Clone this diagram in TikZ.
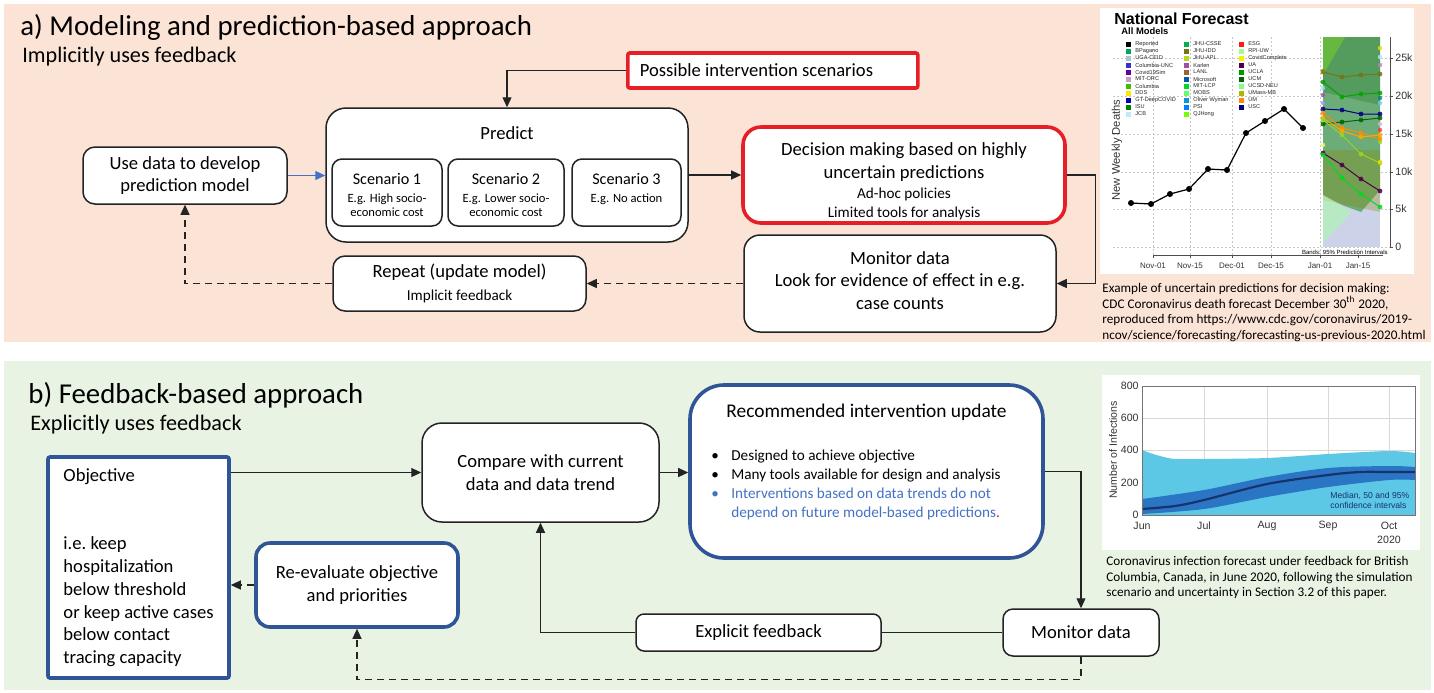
\documentclass[tikz,border=0pt]{standalone}
\usepackage{fontspec}
\setmainfont{Carlito}
\newfontfamily\chartfont{Liberation Sans}
\usetikzlibrary{arrows.meta,positioning}

\definecolor{panelPeach}{RGB}{251,228,214}
\definecolor{panelMint}{RGB}{233,243,228}
\definecolor{alertRed}{RGB}{232,30,38}
\definecolor{fbBlue}{RGB}{47,85,151}
\definecolor{linkBlue}{RGB}{68,114,196}
\definecolor{inkGray}{RGB}{35,35,35}
\definecolor{bandCyan}{RGB}{92,200,230}
\definecolor{bandBlue}{RGB}{42,118,196}
\definecolor{medianNavy}{RGB}{24,50,110}
\definecolor{hazeBlue}{RGB}{204,210,232}
\definecolor{mutedGreen}{RGB}{98,168,108}

\newcommand{\headfont}{\fontsize{14.4}{17}\selectfont}
\newcommand{\subheadfont}{\fontsize{11.1}{13}\selectfont}
\newcommand{\boxfont}{\fontsize{9.3}{11.4}\selectfont}
\newcommand{\notefont}{\fontsize{7.6}{9.5}\selectfont}
\newcommand{\scentitlefont}{\fontsize{8.1}{9}\selectfont}
\newcommand{\scenfont}{\fontsize{6.3}{7.2}\selectfont}
\newcommand{\figcapfont}{\fontsize{6.6}{7.85}\selectfont}

\begin{document}
\begin{tikzpicture}[x=0.5pt,y=-0.5pt, every node/.style={inner sep=0pt}]
  \tikzset{
    box/.style={draw=inkGray, line width=0.75pt, fill=white, rounded corners=6pt, align=center, font=\boxfont},
    redbox/.style={box, draw=alertRed, line width=1.8pt},
    bluebox/.style={box, draw=fbBlue, line width=1.8pt},
    flow/.style={draw=inkGray, line width=0.6pt, -{Triangle[length=5pt,width=4.5pt]}},
    dashflow/.style={flow, dash pattern=on 3.5pt off 2.5pt},
    plainline/.style={draw=inkGray, line width=0.6pt},
    gridline/.style={draw=black!22, line width=0.3pt, dash pattern=on 1pt off 1pt},
    axislbl/.style={font=\chartfont\fontsize{5.3}{6}\selectfont, text=black!80},
    datelbl/.style={font=\chartfont\fontsize{4}{5}\selectfont, text=black!80},
    tinylbl/.style={font=\chartfont\fontsize{2.8}{3.3}\selectfont, text=black!85}
  }

  \path[use as bounding box] (0,0) rectangle (1434,692);

  % panel backgrounds
  \fill[panelPeach] (4,4) rectangle (1431,342);
  \fill[panelMint] (4,361) rectangle (1431,690);

  % ---------------- panel a ----------------
  \node[anchor=west, font=\headfont] (titleA) at (20,27) {a) Modeling and prediction-based approach};
  \node[anchor=west, font=\subheadfont] (subA) at (22,57) {Implicitly uses feedback};

  \node[redbox, anchor=west, align=flush left, text width=133pt, inner xsep=6pt, minimum height=17.5pt, rounded corners=1pt] (scenarios) at (626,70.5) {Possible intervention scenarios};

  \node[box, minimum width=181pt, minimum height=67pt, rounded corners=10pt] (predict) at (507,175) {};
  \node[font=\boxfont] (predictlbl) at (507,133) {Predict};
  \node[box, font=\scentitlefont, minimum width=55pt, minimum height=33.5pt, rounded corners=5pt] (scen1) at (387,192.5)
    {\rule{0pt}{8.3pt}Scenario 1\\{\scenfont E.g. High socio-}\\[-2pt]{\scenfont economic cost}};
  \node[box, font=\scentitlefont, minimum width=58pt, minimum height=33.5pt, rounded corners=5pt] (scen2) at (506,192.5)
    {\rule{0pt}{8.3pt}Scenario 2\\{\scenfont E.g. Lower socio-}\\[-2pt]{\scenfont economic cost}};
  \node[box, font=\scentitlefont, minimum width=54.5pt, minimum height=33.5pt, rounded corners=5pt] (scen3) at (626.5,192.5)
    {\rule{0pt}{8.3pt}Scenario 3\\{\scenfont E.g. No action}\\[-2pt]{\scenfont\phantom{economic cost}}};

  \node[box, minimum width=102pt, minimum height=28.5pt] (usedata) at (185,175.5) {Use data to develop\\prediction model};
  \node[redbox, minimum width=161pt, minimum height=48pt, rounded corners=9pt] (decision) at (904,175) {};
  \node[align=center, font=\boxfont] (decisiontxt) at (904,181)
    {Decision making based on highly\\uncertain predictions\\[-1.2pt]{\notefont Ad-hoc policies}\\[-2pt]{\notefont Limited tools for analysis}};
  \node[box, minimum width=156pt, minimum height=48.5pt, rounded corners=8pt] (monitorA) at (900,283.5) {};
  \node[align=center, font=\boxfont] (monitorAtxt) at (900,280.5)
    {Monitor data\\Look for evidence of effect in e.g.\\case counts};
  \node[box, minimum width=126.5pt, minimum height=27.5pt] (repeat) at (459.5,283.5)
    {Repeat (update model)\\{\notefont Implicit feedback}};

  \draw[flow, draw=linkBlue] (usedata.east) -- (usedata.east -| predict.west);
  \draw[flow] (scenarios.west) -| (predict.north);
  \draw[flow] (predict.east) -- (predict.east -| decision.west);
  \draw[flow] (decision.east) -- ++(29,0) |- (monitorA.east);
  \draw[dashflow] (monitorA.west) -- (repeat.east);
  \draw[dashflow] (repeat.west) -| (usedata.south);

  % national forecast chart
  \fill[white] (1100,8) rectangle (1414,274);
  \foreach \gx in {1153,1190,1232,1271,1320,1358} \draw[gridline] (\gx,37) -- (\gx,255);
  \foreach \gy in {58,96,134,172,209,247} \draw[gridline] (1113,\gy) -- (1390,\gy);

  \fill[hazeBlue] (1323,37) rectangle (1380,247);
  \fill[mutedGreen, opacity=0.9] (1323,37) -- (1380,37) -- (1380,190) -- (1361,212) -- (1342,205) -- (1323,195) -- cycle;
  \fill[black!60!green, opacity=0.22] (1323,37) -- (1380,37) -- (1380,105) -- (1323,92) -- cycle;
  \fill[olive, opacity=0.3] (1323,150) -- (1380,150) -- (1380,212) -- (1323,200) -- cycle;
  \fill[green!35, opacity=0.55] (1323,195) -- (1352,212) -- (1323,242) -- cycle;
  \fill[green!25!lime, opacity=0.3] (1323,37) -- (1345,37) -- (1323,75) -- cycle;

  \foreach \fc/\ya/\yb/\yc/\yd in {olive!80!black/72/77/75/74, green!65!black/82/97/94/93, blue!50!black/109/110/114/114,
      green!40!black/124/122/120/118, orange!90!yellow/113/128/133/139, orange!70!yellow/118/131/137/135,
      yellow!60!green/120/135/154/163, violet!60!black/153/165/179/191, green!70!teal/155/178/194/207} {
    \draw[\fc, line width=0.5pt] (1323,\ya) -- (1342,\yb) -- (1361,\yc) -- (1380,\yd);
    \foreach \px/\py in {1323/\ya,1342/\yb,1361/\yc,1380/\yd} \fill[\fc, opacity=0.85] (\px,\py) circle (1.2pt);
  }
  \foreach \ey/\ec in {48/yellow!80!olive, 57/cyan!30, 65/violet!50, 98/teal, 103/cyan!60, 124/violet!30, 130/red!80, 142/yellow!60!green, 162/yellow!80!olive}
    \fill[\ec, opacity=0.8] (1380,\ey) circle (1.1pt);
  \foreach \ey/\ec in {71/olive, 88/cyan!40, 95/violet!70, 103/blue!40, 145/yellow!60}
    \fill[\ec, opacity=0.8] (1323,\ey) circle (1.1pt);

  \draw[black, line width=0.6pt] (1131,203) -- (1151,204) -- (1170,194) -- (1189,189) -- (1208,169) -- (1227,170)
    -- (1246,133) -- (1265,121) -- (1284,109) -- (1303,128);
  \foreach \px/\py in {1131/203,1151/204,1170/194,1189/189,1208/169,1227/170,1246/133,1265/121,1284/109,1303/128}
    \fill (\px,\py) circle (1.5pt);

  \draw[black!70, line width=0.5pt] (1390,37) -- (1390,247);
  \foreach \ty/\tl in {58/25k,96/20k,134/15k,172/10k,209/5k,247/0} {
    \draw[black!70, line width=0.4pt] (1390,\ty) -- (1393,\ty);
    \node[axislbl, anchor=west] (ytick\ty) at (1395,\ty) {\tl};
  }
  \draw[black!70, line width=0.5pt] (1153,255) -- (1383,255);
  \foreach \tx/\tl in {1153/Nov-01,1190/Nov-15,1232/Dec-01,1271/Dec-15,1320/Jan-01,1358/Jan-15} {
    \draw[black!70, line width=0.4pt] (\tx,255) -- (\tx,258);
    \node[datelbl] (xtick\tx) at (\tx,266) {\tl};
  }

  \node[anchor=west, font=\chartfont\bfseries\fontsize{8}{9}\selectfont] (natTitle) at (1114,19) {National Forecast};
  \node[anchor=west, font=\chartfont\bfseries\fontsize{4.7}{5.5}\selectfont] (natSub) at (1121,31) {All Models};
  \node[rotate=90, font=\chartfont\fontsize{5.6}{6.5}\selectfont, text=black!80] (natYlab) at (1117,150) {New Weekly Deaths};
  \node[anchor=east, font=\chartfont\fontsize{3}{3.5}\selectfont] (bandsNote) at (1388,252) {Bands: 95\% Prediction Intervals};

  % legend, three columns
  \foreach \lname/\lcol [count=\i from 0] in {Reported/black, BPagano/teal!70!green, UGA-CEID/cyan!30!gray!60,
      Columbia-UNC/blue!60!gray, Covid19Sim/violet!80!blue, MIT-ORC/violet!40, Columbia/green!50!olive,
      DDS/yellow!90!orange, GT-DeepCOVID/blue!70!black, ISU/green!50!black, JCB/cyan!25} {
    \fill[\lcol] (1126,{42+7*\i}) rectangle ++(4.5,4.5);
    \node[tinylbl, anchor=west] (legA\i) at (1135,{44+7*\i}) {\lname};
  }
  \foreach \lname/\lcol [count=\i from 0] in {JHU-CSSE/teal!60!green, JHU-IDD/olive!80!black, JHU-APL/yellow!70!green,
      Karlen/violet!70, LANL/brown!80!black, Microsoft/teal!70!blue, MIT-LCP/green!70!teal, MOBS/green!60,
      Oliver Wyman/cyan!80!blue, PSI/blue!50!cyan, QJHong/lime!60!green} {
    \fill[\lcol] (1184,{42+7*\i}) rectangle ++(4.5,4.5);
    \node[tinylbl, anchor=west] (legB\i) at (1193,{44+7*\i}) {\lname};
  }
  \foreach \lname/\lcol [count=\i from 0] in {ESG/red!90, RPI-UW/green!40, CovidComplete/yellow!85!lime, UA/violet!60!black,
      UCLA/green!60!black, UCM/green!40!black, UCSD-NEU/green!50, UMass-MB/olive!50!lime, UM/orange!90!yellow, USC/blue!50!black} {
    \fill[\lcol] (1239,{42+7*\i}) rectangle ++(4.5,4.5);
    \node[tinylbl, anchor=west] (legC\i) at (1248,{44+7*\i}) {\lname};
  }

  \node[anchor=north west, align=left, font=\figcapfont] (capA) at (1102,283)
    {Example of uncertain predictions for decision making:\\CDC Coronavirus death forecast December 30\textsuperscript{th} 2020,\\reproduced from https://www.cdc.gov/coronavirus/2019-\\ncov/science/forecasting/forecasting-us-previous-2020.html};

  % ---------------- panel b ----------------
  \node[anchor=west, font=\headfont] (titleB) at (28,395) {b) Feedback-based approach};
  \node[anchor=west, font=\subheadfont] (subB) at (30,425) {Explicitly uses feedback};

  \node[bluebox, rounded corners=1pt, align=left, font=\boxfont\frenchspacing, minimum width=90.5pt, minimum height=110.5pt] (objective) at (138.5,567.5)
    {Objective\\[22.9pt]i.e. keep\\hospitalization\\below threshold\\or keep active cases\\below contact\\tracing capacity};
  \node[box, minimum width=118.5pt, minimum height=49.5pt, rounded corners=10pt] (compare) at (540.5,472.5) {Compare with current\\data and data trend};
  \node[bluebox, minimum width=176.5pt, minimum height=86.5pt, rounded corners=17pt] (recupdate) at (866.5,471.5) {};
  \node[font=\fontsize{9.7}{11.4}\selectfont] (rectitle) at (866.5,412) {Recommended intervention update};
  \node[anchor=north west, align=left, font=\notefont] (recitems) at (711,450)
    {\makebox[10pt][l]{\textbullet}Designed to achieve objective\\
     \makebox[10pt][l]{\textbullet}Many tools available for design and analysis\\
     \textcolor{linkBlue}{\makebox[10pt][l]{\textbullet}Interventions based on data trends do not}\\
     \textcolor{linkBlue}{\hspace*{10pt}depend on future model-based predictions}\textcolor{red}{.}};
  \node[bluebox, minimum width=101pt, minimum height=42pt, rounded corners=7pt] (reeval) at (357,585) {Re-evaluate objective\\and priorities};
  \node[box, minimum width=122.5pt, minimum height=18.5pt, rounded corners=4pt] (explicit) at (758.5,632.5) {Explicit feedback};
  \node[box, minimum width=78pt, minimum height=23.5pt, rounded corners=5pt] (monitorB) at (1081,632.5) {Monitor data};

  \draw[flow] (objective.east |- compare.west) -- (compare.west);
  \draw[flow] (compare.east) -- (compare.east -| recupdate.west);
  \draw[flow] (recupdate.east) -| (monitorB.north);
  \draw[plainline] (monitorB.west) -- (explicit.east);
  \draw[flow] (explicit.west) -| (compare.south);
  \draw[dashflow] (monitorB.south) -- ++(0,23) -| (reeval.south);
  \draw[dashflow] (reeval.west) -- (reeval.west -| objective.east);

  % infection forecast chart
  \fill[white] (1102,375) rectangle (1420,550);
  \foreach \gx in {1204,1267,1328,1389} \draw[black!15, line width=0.3pt] (\gx,386) -- (\gx,515);
  \foreach \gy in {418,450,483} \draw[black!15, line width=0.3pt] (1142,\gy) -- (1415,\gy);
  \fill[bandCyan] (1142,515) -- plot[smooth] coordinates {(1142,450) (1150,453) (1160,456) (1175,459) (1204,459) (1267,458) (1328,454) (1389,451) (1415,453)} -- (1415,515) -- cycle;
  \fill[bandBlue] plot[smooth] coordinates {(1142,499) (1204,490) (1267,477) (1328,468) (1389,466) (1415,467)}
    -- plot[smooth] coordinates {(1415,480) (1389,480) (1328,487) (1267,497) (1204,509) (1142,514)} -- cycle;
  \draw[medianNavy, line width=1.1pt] plot[smooth] coordinates {(1142,509) (1175,506) (1204,500) (1267,484) (1328,475) (1360,472) (1389,472) (1415,472)};
  \draw[black!55, line width=0.4pt] (1142,386) rectangle (1415,515);
  \foreach \ty/\tl in {386/800,418/600,450/400,483/200,515/0}
    \node[axislbl, anchor=east] (ntick\ty) at (1139,\ty) {\tl};
  \foreach \tx/\tl in {1142/Jun,1204/Jul,1267/Aug,1328/Sep,1389/Oct}
    \node[axislbl] (mtick\tx) at (\tx,526) {\tl};
  \node[axislbl] (yearlbl) at (1389,540) {2020};
  \node[rotate=90, axislbl] (infYlab) at (1113,450) {Number of Infections};
  \node[anchor=west, align=left, font=\chartfont\fontsize{4.3}{5}\selectfont, text=medianNavy] (medNote) at (1330,500)
    {Median, 50 and 95\%\\confidence intervals};

  \node[anchor=north west, align=left, font=\figcapfont] (capB) at (1106,556)
    {Coronavirus infection forecast under feedback for British\\Columbia, Canada, in June 2020, following the simulation\\scenario and uncertainty in Section 3.2 of this paper.};

\end{tikzpicture}
\end{document}
